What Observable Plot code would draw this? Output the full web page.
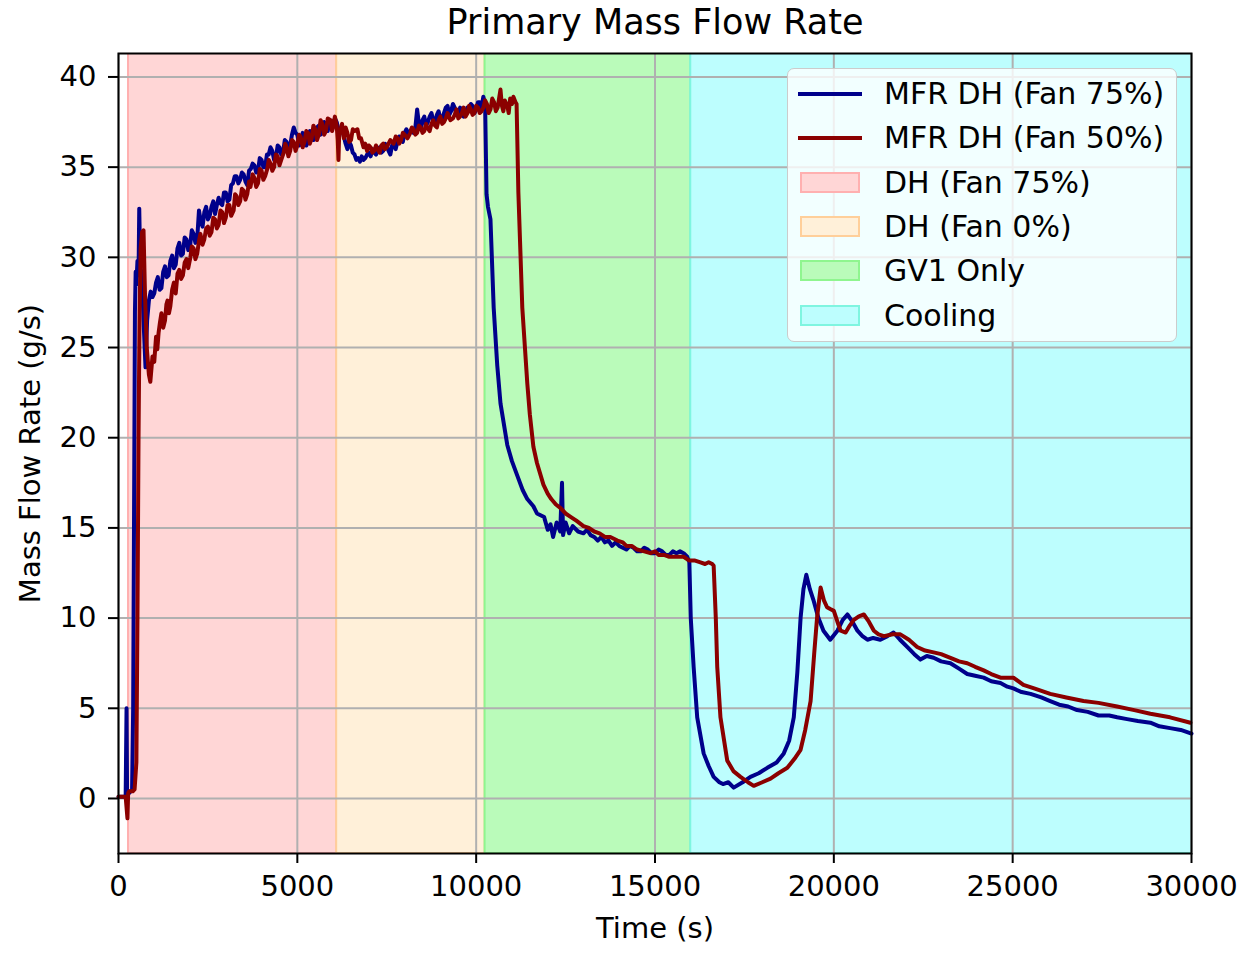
<!DOCTYPE html>
<html>
<head>
<meta charset="utf-8">
<script src="https://cdn.jsdelivr.net/npm/d3@7"></script>
<script src="https://cdn.jsdelivr.net/npm/@observablehq/plot@0.6"></script>
<style>
  html, body { margin: 0; padding: 0; background: white; }
  #fig { position: relative; width: 1257px; height: 955px; font-family: "DejaVu Sans", sans-serif; }
  #legend { position: absolute; left: 787px; top: 68px; width: 390px; height: 274px;
    background: rgba(255,255,255,0.8); border: 1.5px solid #cccccc; border-radius: 7px; box-sizing: border-box; }
  .row { position: absolute; left: 0; height: 44px; }
  .sw { position: absolute; }
  .lab { position: absolute; left: 96px; font-size: 30px; color: black; white-space: nowrap; line-height: 44px; }
</style>
</head>
<body>
<div id="fig"></div>
<script>
// ---- data ----
const title = "Primary Mass Flow Rate";
const xLabel = "Time (s)";
const yLabel = "Mass Flow Rate (g/s)";
const xTicks = [0, 5000, 10000, 15000, 20000, 25000, 30000];
const yTicks = [0, 5, 10, 15, 20, 25, 30, 35, 40];

const phaseNames = ["DH (Fan 75%)", "DH (Fan 0%)", "GV1 Only", "Cooling"];
const phaseStart = [280, 6100, 10250, 16000];
const phaseEnd = [6100, 10250, 16000, 30600];
const phaseFill = ["#ffd6d6", "#fff0d9", "#bafbba", "#bdfefe"];
const phaseEdge = ["#ffb0b0", "#ffcf9a", "#8ff58f", "#7ff5e0"];

const seriesNames = ["MFR DH (Fan 75%)", "MFR DH (Fan 50%)"];
const seriesColors = ["#00008b", "#8b0000"];

// MFR DH (Fan 75%) : [time s, flow g/s]
const blueSeries = [
 [0,0.1],[200,0.1],[225,5.0],[240,0.2],[260,0.3],[300,0.3],[380,0.5],[410,5],[440,18],[460,27],
 [480,29.2],[500,28.5],[530,29.8],[560,29.0],[580,32.7],[600,30.5],[620,29.4],[660,28.8],[700,26.5],[755,23.9],
 [800,26.5],[850,27.6],[900,28.1],[950,27.8],
 [1000,28.0],[1050,28.6],[1100,28.9],[1150,28.2],[1200,28.3],[1250,29.2],[1300,29.5],[1350,28.9],[1400,29.0],[1450,29.8],
 [1500,30.1],[1550,29.4],[1600,29.6],[1650,30.5],[1700,30.8],[1750,30.1],[1800,30.2],[1850,31.1],[1900,31.0],[1950,30.4],
 [2000,30.6],[2050,31.5],[2100,31.3],[2150,30.8],[2200,31.0],[2250,32.6],[2300,32.0],[2350,31.7],[2400,32.5],[2450,32.8],
 [2500,32.1],[2550,32.3],[2600,32.8],[2650,33.1],[2700,32.4],[2750,32.9],[2800,33.3],[2850,33.0],[2900,32.9],[2950,33.6],
 [3000,33.6],[3050,33.1],[3100,33.2],[3150,34.0],[3200,34.1],[3250,34.5],[3300,34.5],[3350,34.1],[3400,34.3],[3450,34.7],
 [3500,34.6],[3550,34.2],[3600,34.0],[3650,34.8],[3700,34.9],[3750,35.2],[3800,35.1],[3850,34.7],[3900,34.8],[3950,35.5],
 [4000,35.4],[4050,35.0],[4100,35.0],[4150,35.7],[4200,35.7],[4250,36.1],[4300,35.9],[4350,35.4],[4400,35.5],[4450,36.2],
 [4500,36.1],[4550,35.7],[4600,35.8],[4650,36.5],[4700,36.4],[4750,36.0],[4800,36.2],[4850,36.8],[4900,37.2],[4950,36.9],
 [5000,36.8],[5050,36.2],[5100,36.3],[5150,36.9],[5200,36.6],[5250,36.2],[5300,36.4],[5350,37.0],[5400,36.9],[5450,36.5],
 [5500,36.7],[5550,37.2],[5600,37.3],[5650,36.8],[5700,36.9],[5750,37.5],[5800,37.4],[5850,37.0],[5900,37.6],[5950,37.2],
 [6000,37.3],[6050,37.7],[6100,37.5],[6150,37.1],[6200,37.0],[6250,37.2],[6300,36.7],[6350,36.3],[6400,36.0],[6450,36.4],
 [6500,36.2],[6550,35.8],[6600,35.7],[6650,35.4],[6700,35.5],[6750,35.3],[6800,35.6],[6850,35.4],[6900,35.5],[6950,35.7],
 [7000,35.8],[7050,35.6],[7100,36.0],[7150,35.8],[7200,35.7],[7250,36.0],[7300,36.1],[7350,35.8],[7400,35.9],[7450,36.3],
 [7500,36.2],[7550,35.9],[7600,35.7],[7650,36.2],[7700,36.3],[7750,36.0],[7800,36.4],[7850,36.7],[7900,36.6],[7950,36.4],
 [8000,36.9],[8050,37.1],[8100,36.8],[8150,37.0],[8200,37.1],[8250,36.9],[8300,37.2],[8350,38.2],[8400,37.4],[8450,37.1],
 [8500,37.6],[8550,37.8],[8600,37.3],[8650,37.5],[8700,37.8],[8750,38.0],[8800,37.6],[8850,37.4],[8900,37.9],[8950,38.1],
 [9000,37.7],[9050,37.6],[9100,38.0],[9150,38.3],[9200,38.4],[9250,37.9],[9300,38.1],[9350,38.5],[9400,38.3],[9450,37.9],
 [9500,37.9],[9550,38.3],[9600,38.2],[9650,37.8],[9700,37.9],[9750,38.3],[9800,38.1],[9850,38.5],[9900,38.4],[9950,38.0],
 [10000,38.2],[10050,38.6],[10100,38.6],[10150,38.3],[10200,38.9],[10250,38.5],
 [10290,33.5],[10330,32.8],[10400,32.1],[10490,27.2],[10590,24.0],[10680,21.9],[10870,19.6],[11000,18.7],[11150,17.9],[11300,17.1],
 [11430,16.6],[11600,16.2],[11700,15.8],[11800,15.7],[11900,15.6],[12000,14.9],[12080,15.2],[12150,14.5],[12250,15.3],[12350,14.8],
 [12400,17.5],[12430,14.6],[12500,15.3],[12600,14.7],[12700,15.1],[12850,14.8],[13000,14.7],[13100,14.9],[13200,14.6],[13300,14.5],
 [13400,14.3],[13500,14.5],[13600,14.2],[13700,14.3],[13800,14.0],[13900,14.2],[14000,14.0],[14100,13.9],[14200,13.8],[14300,14.0],
 [14400,13.9],[14500,13.7],[14600,13.7],[14700,13.9],[14800,13.8],[14900,13.6],[15000,13.6],[15100,13.8],[15200,13.7],[15300,13.5],
 [15400,13.5],[15500,13.7],[15600,13.6],[15700,13.7],[15800,13.6],[15900,13.4],[15960,13.1],
 [16000,10.0],[16080,7.3],[16180,4.5],[16360,2.5],[16500,1.8],[16640,1.2],[16800,0.9],[16900,0.8],[17050,0.9],[17200,0.6],
 [17450,0.9],[17670,1.2],[17900,1.4],[18140,1.7],[18400,2.0],[18600,2.5],[18750,3.2],[18880,4.5],[18980,7.0],[19070,10.0],
 [19150,11.6],[19230,12.4],[19330,11.6],[19430,11.0],[19570,10.0],[19710,9.3],[19900,8.8],[20100,9.3],[20250,9.9],[20380,10.2],
 [20520,9.8],[20660,9.3],[20800,9.0],[20940,8.8],[21100,8.9],[21300,8.8],[21500,9.0],[21670,9.2],[21850,8.8],[22050,8.4],
 [22250,8.0],[22420,7.7],[22600,7.9],[22790,7.8],[23000,7.6],[23260,7.5],[23500,7.2],[23730,6.9],[23950,6.8],[24190,6.7],
 [24400,6.5],[24660,6.4],[24850,6.2],[25020,6.1],[25250,5.9],[25500,5.8],[25800,5.6],[26050,5.4],[26300,5.2],[26550,5.1],
 [26800,4.9],[27100,4.8],[27400,4.6],[27700,4.6],[27920,4.5],[28200,4.4],[28500,4.3],[28850,4.2],[29100,4.0],[29400,3.9],
 [29700,3.8],[30000,3.6]
];

// MFR DH (Fan 50%) : [time s, flow g/s]
const redSeries = [
 [0,0.1],[200,0.1],[250,-1.1],[270,0.3],[300,0.4],[400,0.4],[450,0.5],[500,2.0],[530,10],[560,20],
 [590,27],[620,30.5],[660,31.4],[700,31.5],[740,28],[790,25],[850,23.5],[890,23.1],[950,24.5],[1000,24.2],
 [1050,25.6],[1085,24.9],[1120,25.8],[1160,26.4],[1200,26.9],[1250,26.1],[1300,26.5],[1340,27.4],[1370,27.6],[1410,26.9],
 [1450,27.3],[1500,28.2],[1550,28.6],[1600,28.0],[1650,29.1],[1700,29.3],[1750,28.8],[1800,29.0],[1850,29.7],[1900,29.9],
 [1950,29.4],[2010,30.0],[2050,30.6],[2100,30.5],[2150,29.9],[2200,30.2],[2250,30.9],[2290,31.3],[2350,30.7],[2400,31.0],
 [2450,31.6],[2500,31.7],[2550,31.2],[2600,31.4],[2650,32.2],[2700,32.1],[2750,31.6],[2800,31.8],[2850,32.6],[2900,32.5],
 [2950,31.9],[3000,32.2],[3050,32.9],[3100,32.9],[3150,32.3],[3220,32.6],[3260,33.5],[3300,33.4],[3350,32.9],[3400,33.1],
 [3450,33.8],[3500,33.7],[3550,33.2],[3600,33.5],[3650,34.2],[3690,33.9],[3750,34.6],[3800,34.4],[3850,33.9],[3900,34.1],
 [3950,34.9],[4000,34.8],[4050,34.3],[4100,34.5],[4160,34.9],[4200,35.4],[4250,35.2],[4300,34.8],[4350,35.0],[4400,35.7],
 [4450,35.6],[4500,35.1],[4550,35.4],[4620,35.8],[4660,36.3],[4700,36.1],[4750,35.6],[4800,35.9],[4850,36.5],[4900,36.4],
 [4950,35.9],[5000,36.2],[5050,36.8],[5090,36.7],[5150,36.1],[5200,36.4],[5250,37.0],[5300,36.9],[5350,36.3],[5400,36.6],
 [5450,37.3],[5500,37.1],[5550,36.5],[5600,36.8],[5650,37.6],[5700,37.4],[5750,36.8],[5800,37.0],[5850,37.7],[5930,37.6],
 [5970,37.0],[6000,37.2],[6050,37.8],[6100,37.3],[6130,36.5],[6150,35.4],[6170,36.8],[6200,37.0],[6250,37.4],[6300,36.6],
 [6350,37.2],[6400,36.9],[6450,36.4],[6500,36.5],[6550,37.1],[6600,37.0],[6680,37.1],[6730,36.6],[6780,36.6],[6850,36.1],
 [6900,36.3],[6950,35.9],[7000,36.2],[7050,36.1],[7100,35.8],[7150,35.9],[7200,36.2],[7240,36.0],[7300,35.8],[7350,36.2],
 [7400,36.3],[7450,36.0],[7500,36.1],[7550,36.3],[7600,36.5],[7690,36.3],[7750,36.7],[7800,36.6],[7850,36.3],[7900,36.5],
 [7950,36.9],[8000,36.8],[8080,36.6],[8160,36.9],[8200,37.2],[8250,37.1],[8300,36.8],[8350,36.9],[8400,37.3],[8450,37.2],
 [8500,36.9],[8550,37.0],[8600,37.4],[8630,37.2],[8700,37.0],[8750,37.4],[8800,37.6],[8850,37.3],[8900,37.2],[8950,37.6],
 [9000,37.8],[9050,37.4],[9100,37.5],[9150,37.7],[9200,38.0],[9280,37.6],[9350,37.7],[9400,37.9],[9450,38.2],[9500,37.7],
 [9550,37.8],[9600,38.0],[9650,38.3],[9700,37.8],[9760,38.0],[9800,38.4],[9850,38.2],[9900,37.9],[9950,38.0],[10000,38.4],
 [10050,38.3],[10100,38.0],[10150,38.1],[10200,38.3],[10250,38.7],[10300,38.5],[10350,38.0],[10400,38.2],[10450,38.8],[10500,38.6],
 [10550,38.1],[10600,38.3],[10680,39.3],[10720,38.4],[10760,38.1],[10800,38.7],[10870,38.4],[10910,38.0],[10950,38.8],[11000,38.5],
 [11040,38.9],[11100,38.6],[11130,38.5],
 [11180,33.6],[11290,27.2],[11430,23.0],[11500,21.3],[11600,19.5],[11700,18.6],[11880,17.4],[12000,16.9],[12100,16.6],[12230,16.3],
 [12360,16.1],[12500,15.8],[12650,15.6],[12800,15.4],[13000,15.1],[13150,15.0],[13300,14.8],[13450,14.7],[13600,14.5],[13750,14.5],
 [13950,14.3],[14100,14.2],[14200,14.0],[14350,14.0],[14500,13.8],[14700,13.7],[14870,13.6],[15000,13.7],[15100,13.5],[15250,13.5],
 [15400,13.4],[15600,13.4],[15800,13.4],[15950,13.2],[16100,13.2],[16250,13.1],[16400,13.0],[16500,13.1],[16600,13.0],[16640,12.9],
 [16700,10.0],[16740,7.3],[16830,4.5],[17020,2.1],[17200,1.5],[17390,1.2],[17600,0.9],[17760,0.7],[18000,0.9],[18230,1.1],
 [18450,1.4],[18700,1.7],[18900,2.2],[19070,2.7],[19200,3.8],[19350,5.4],[19450,8.0],[19530,10.0],[19630,11.7],[19720,11.0],
 [19810,10.6],[19900,10.5],[20000,10.4],[20100,9.8],[20190,9.3],[20330,9.2],[20450,9.6],[20560,9.9],[20700,10.1],[20840,10.2],
 [20980,9.8],[21120,9.3],[21250,9.1],[21400,9.0],[21650,9.1],[21860,9.1],[22100,8.8],[22330,8.4],[22550,8.2],[22790,8.1],
 [23000,8.0],[23260,7.8],[23500,7.6],[23730,7.5],[23950,7.3],[24190,7.1],[24400,6.9],[24660,6.7],[25020,6.7],[25300,6.3],
 [25600,6.1],[26050,5.8],[26500,5.6],[26980,5.4],[27400,5.3],[27920,5.1],[28400,4.9],[28850,4.7],[29400,4.5],[29970,4.2]
];

// ---- build ----
const phases = phaseNames.map((n, i) => ({name: n, start: phaseStart[i], end: phaseEnd[i], fill: phaseFill[i], edge: phaseEdge[i]}));
const toRows = (arr) => arr.map(([t, v]) => ({t, v}));

const chart = Plot.plot({
  width: 1257,
  height: 955,
  marginLeft: 118,
  marginRight: 66,
  marginTop: 53,
  marginBottom: 102,
  style: {fontFamily: "DejaVu Sans", fontSize: "29px", color: "black", background: "white", overflow: "visible"},
  x: {domain: [0, 30000]},
  y: {domain: [-3.05, 41.3]},
  marks: [
    Plot.rect(phases, {x1: "start", x2: "end", fill: d => d.fill, stroke: d => d.edge, strokeWidth: 2, clip: true}),
    Plot.gridX(xTicks, {stroke: "#b0b0b0", strokeOpacity: 1, strokeWidth: 2}),
    Plot.gridY(yTicks, {stroke: "#b0b0b0", strokeOpacity: 1, strokeWidth: 2}),
    Plot.line(toRows(blueSeries), {x: "t", y: "v", stroke: seriesColors[0], strokeWidth: 4, strokeLinejoin: "round"}),
    Plot.line(toRows(redSeries), {x: "t", y: "v", stroke: seriesColors[1], strokeWidth: 4, strokeLinejoin: "round"}),
    Plot.frame({stroke: "black", strokeWidth: 2}),
    Plot.axisX(xTicks, {tickSize: 10, tickPadding: 12, strokeWidth: 2, label: null, tickFormat: d3.format("d"), fontSize: 29}),
    Plot.axisY(yTicks, {tickSize: 10, tickPadding: 12, strokeWidth: 2, label: null, tickFormat: d3.format("d"), fontSize: 29}),
    Plot.text([title], {text: d => d, frameAnchor: "top", dy: -31, lineAnchor: "middle", textAnchor: "middle", fontSize: 35}),
    Plot.text([xLabel], {text: d => d, frameAnchor: "bottom", dy: 75, lineAnchor: "middle", textAnchor: "middle", fontSize: 29}),
    Plot.text([yLabel], {text: d => d, frameAnchor: "left", dx: -88, rotate: -90, lineAnchor: "middle", textAnchor: "middle", fontSize: 29})
  ]
});

const fig = document.getElementById("fig");
fig.appendChild(chart);

// legend (HTML overlay)
const legend = document.createElement("div");
legend.id = "legend";
const items = [
  ...seriesNames.map((n, i) => ({type: "line", name: n, color: seriesColors[i]})),
  ...phases.map(p => ({type: "patch", name: p.name, fill: p.fill, edge: p.edge}))
];
items.forEach((it, i) => {
  const row = document.createElement("div");
  row.className = "row";
  row.style.top = (3 + i * 44.3) + "px";
  row.style.width = "100%";
  const sw = document.createElement("div");
  sw.className = "sw";
  if (it.type === "line") {
    sw.style.left = "10px"; sw.style.width = "64px"; sw.style.height = "4px"; sw.style.top = "20px";
    sw.style.background = it.color;
  } else {
    sw.style.left = "12px"; sw.style.width = "60px"; sw.style.height = "21px"; sw.style.top = "11px";
    sw.style.background = it.fill; sw.style.border = "2px solid " + it.edge; sw.style.boxSizing = "border-box";
  }
  const lab = document.createElement("div");
  lab.className = "lab";
  lab.style.top = "0px";
  lab.textContent = it.name;
  row.appendChild(sw);
  row.appendChild(lab);
  legend.appendChild(row);
});
fig.appendChild(legend);
</script>
</body>
</html>
